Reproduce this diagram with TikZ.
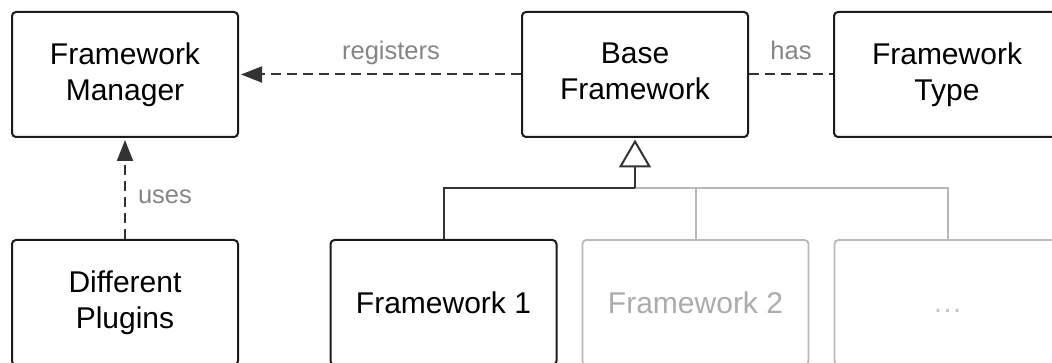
\documentclass[tikz,border=0pt]{standalone}
\usepackage{fontspec}
\setmainfont{Liberation Sans}
\usetikzlibrary{arrows.meta}
\definecolor{boxline}{HTML}{1A1A1A}
\definecolor{conn}{HTML}{333333}
\definecolor{lblgray}{HTML}{858585}
\definecolor{ghostline}{HTML}{B8B8B8}
\definecolor{ghosttext}{HTML}{ABABAB}
\definecolor{dotgray}{HTML}{C4C4C4}
\tikzset{
  cls/.style={draw=boxline, line width=2pt, rounded corners=4pt, minimum width=226pt, minimum height=125pt,
    align=center, text=black, inner sep=0pt, font=\fontsize{30}{36}\selectfont},
  ghost/.style={cls, draw=ghostline, line width=1.8pt, text=ghosttext},
  dep/.style={draw=conn, line width=2pt, dash pattern=on 10pt off 6pt},
  depar/.style={dep, -{Triangle[length=21pt,width=16pt]}, shorten >=2pt},
  inh/.style={draw=conn, line width=2pt},
  inhar/.style={inh, -{Triangle[open,length=28pt,width=32pt,fill=white]}, shorten >=1.5pt},
  ghostconn/.style={draw=ghostline, line width=2pt},
  lbl/.style={text=lblgray, font=\fontsize{25.5}{30}\selectfont, inner sep=0pt}
}
\begin{document}
\begin{tikzpicture}[x=1pt,y=-1pt]
\useasboundingbox (0,0) rectangle (1052,363);
\node[cls] (fm) at (125,74.5) {Framework\\Manager};
\node[cls] (bf) at (635,74.5) {Base\\Framework\vphantom{g}};
\node[cls] (ft) at (947,74.5) {Framework\\Type};
\node[cls] (dp) at (125,302.5) {Different\\Plugins};
\node[cls] (f1) at (443.5,302.5) {Framework 1};
\node[ghost] (f2) at (695.5,302.5) {Framework 2};
\node[ghost, text=dotgray] (dots) at (947.5,302.5) {\vphantom{F}…};
\coordinate (j) at (635,188);
% dependencies
\draw[depar] (bf.west) -- (fm.east)
  node[lbl, pos=0.461, anchor=base, yshift=15pt] (lreg) {registers};
\draw[dep] (bf.east) -- (ft.west)
  node[lbl, midway, anchor=base, yshift=15pt] (lhas) {has};
\draw[depar] (dp.north) -- (fm.south)
  node[lbl, pos=0.41, anchor=base west, xshift=12pt, yshift=-6pt] (luses) {uses};
% inheritance
\draw[ghostconn] (j) -| (dots.north);
\draw[ghostconn] (f2.north) -- (f2.north |- j);
\draw[inh] (f1.north) |- (j);
\draw[inhar] (j) -- (bf.south);
\end{tikzpicture}
\end{document}
